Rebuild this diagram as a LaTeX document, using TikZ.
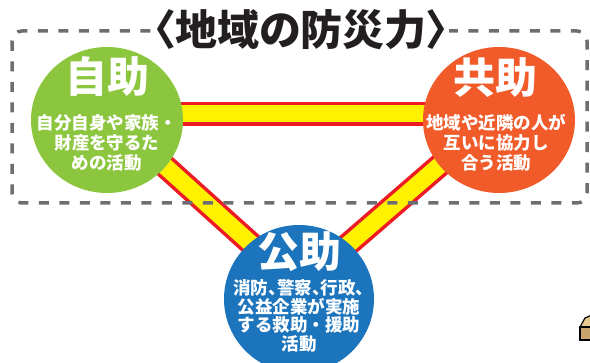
\documentclass[tikz,border=0pt]{standalone}
\usepackage{fontspec}
\newfontfamily\jp{Noto Sans CJK JP}
\newfontfamily\jpp{Noto Sans CJK JP}[RawFeature=+palt]
\usetikzlibrary{shapes.geometric,backgrounds}
\definecolor{cgreen}{HTML}{8CC63F}
\definecolor{corange}{HTML}{F15A29}
\definecolor{cblue}{HTML}{1C75BC}
\definecolor{cyellow}{HTML}{FFF100}
\definecolor{cred}{HTML}{ED1C24}
\definecolor{cgray}{HTML}{6D6E71}
\definecolor{ctan}{HTML}{C9A46E}
\definecolor{croof}{HTML}{E9C98F}
\definecolor{ctitle}{HTML}{231F20}
\begin{document}
\begin{tikzpicture}[x=1pt,y=-1pt,
  disc/.style={ellipse,inner sep=0pt,outer sep=0pt,minimum width=152pt,minimum height=146pt},
  head/.style={text=white,font=\jp\bfseries\fontsize{42}{42}\selectfont,inner sep=0pt},
  body/.style={text=white,font=\jp\bfseries\fontsize{17.5}{20}\selectfont,align=center,inner sep=0pt},
  barout/.style={cred,line width=24pt},
  barin/.style={cyellow,line width=17pt},
  dashbox/.style={cgray,line width=3.5pt,dash pattern=on 10pt off 10.5pt,rounded corners=10pt},
]
\useasboundingbox (0,0) rectangle (590,363);
% circles
\node[disc,fill=cgreen] (g) at (107,120) {};
\node[disc,fill=corange] (o) at (499,120) {};
\node[disc,fill=cblue,minimum width=150pt,minimum height=148pt] (b) at (299,299) {};
% bars and dashed frame behind the circles
\begin{pgfonlayer}{background}
  \draw[barout] ([yshift=6pt]g.center) -- ([yshift=6pt]o.center);
  \draw[barin]  ([yshift=6pt]g.center) -- ([yshift=6pt]o.center);
  \draw[barout] ([yshift=6pt]g.center) -- ([yshift=12pt]b.center);
  \draw[barin]  ([yshift=6pt]g.center) -- ([yshift=12pt]b.center);
  \draw[barout] ([yshift=6pt]o.center) -- ([yshift=12pt]b.center);
  \draw[barin]  ([yshift=6pt]o.center) -- ([yshift=12pt]b.center);
  \draw[dashbox] (12,31) rectangle (587,203);
\end{pgfonlayer}
% texts
\node[head] (gh) at (107,77) {自助};
\node[body] (gt) at (107,143) {自分自身や家族・\\財産を守るた\\めの活動};
\node[head] (oh) at (495,78) {共助};
\node[body] (ot) at (496,143) {地域や近隣の人が\\互いに協力し\\合う活動};
\node[head] (bh) at (299,252) {公助};
\node[body,font=\jp\bfseries\fontsize{17.5}{18.5}\selectfont] (bt) at (299,316)
  {{\jpp 消防、警察、行政、}\\公益企業が実施\\する救助・援助\\活動};
% title
\node[fill=white,inner sep=1pt,outer sep=0pt,text=ctitle,
      font=\jpp\bfseries\fontsize{42}{42}\selectfont] (t) at (301,30) {〈地域の防災力〉};
% small house at the corner
\draw[line width=1.2pt,fill=croof] (580,327) -- (585,318) -- (592,315) -- (592,327) -- cycle;
\draw[line width=1.2pt,fill=ctan] (580,327) rectangle (592,340);
\end{tikzpicture}
\end{document}
